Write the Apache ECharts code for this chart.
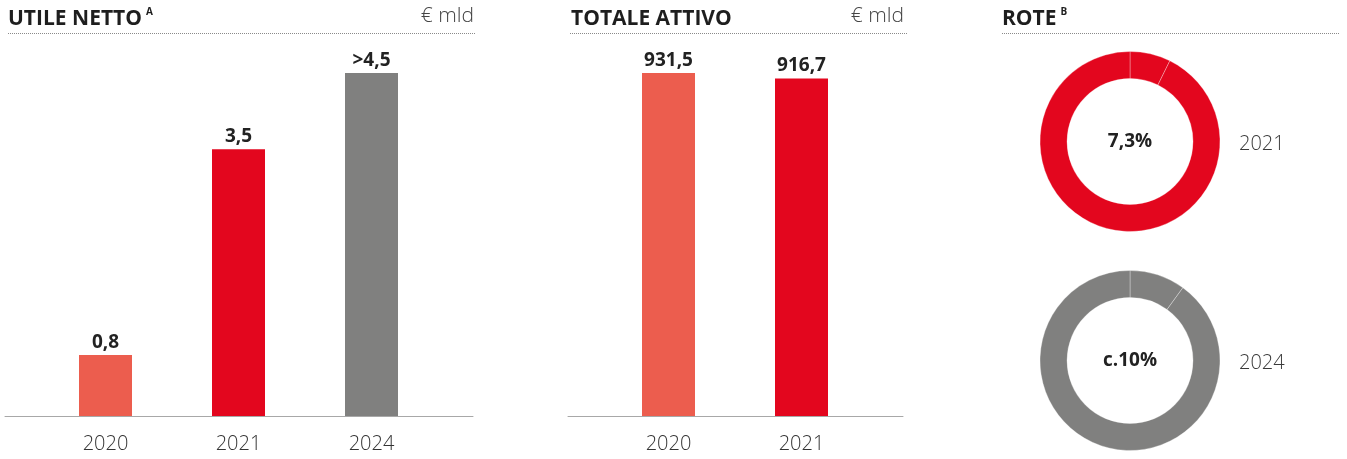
<!DOCTYPE html>
<html>
<head>
<meta charset="utf-8">
<script src="https://cdn.jsdelivr.net/npm/echarts@6/dist/echarts.min.js"></script>
<style>
html,body{margin:0;padding:0;background:#fff;}
#c{width:1347px;height:459px;}
</style>
</head>
<body>
<div id="c"></div>
<script>
// ---- data ----
const netIncomeCategories = ['2020', '2021', '2024'];
const netIncomeValues = [0.8, 3.5, 4.5];
const netIncomeLabels = ['0,8', '3,5', '>4,5'];

const totalAssetsCategories = ['2020', '2021'];
const totalAssetsValues = [931.5, 916.7];
const totalAssetsLabels = ['931,5', '916,7'];

const roteYears = ['2021', '2024'];
const roteValues = [7.3, 10];
const roteLabels = ['7,3%', 'c.10%'];

const yearColors = { '2020': '#EC5D4E', '2021': '#E3061E', '2024': '#80807F' };

const FONT = 'Open Sans';
const chart = echarts.init(document.getElementById('c'), null, { renderer: 'canvas' });

function barData(cats, vals) {
  return vals.map((v, i) => ({ value: v, itemStyle: { color: yearColors[cats[i]] } }));
}

function titleRich(main, sup) {
  return {
    padding: 0,
    text: '{a|' + main + '}' + (sup ? '{s|' + sup + '}' : ''),
    textStyle: {
      rich: {
        a: { fontFamily: FONT, fontWeight: 'bold', fontSize: 21, color: '#1e1e1e', lineHeight: 24 },
        s: { fontFamily: FONT, fontWeight: 'bold', fontSize: 10, color: '#1e1e1e', lineHeight: 24, verticalAlign: 'top', padding: [0, 0, 12, 4] }
      }
    }
  };
}
const unitStyle = { fontFamily: FONT, fontWeight: 300, fontSize: 21, color: '#444' };
const yearStyle = { fontFamily: FONT, fontWeight: 300, fontSize: 20, color: '#3a3a3a' };

const dotted = (x1, x2) => ({
  type: 'line', silent: true,
  shape: { x1: x1, y1: 33.5, x2: x2, y2: 33.5 },
  style: { stroke: '#8a8a8a', lineWidth: 1, lineDash: [1, 1] }
});

function donut(idx, cy) {
  const v = roteValues[idx];
  return {
    type: 'pie',
    silent: true,
    radius: [63, 90],
    center: [1130, cy],
    startAngle: 90,
    clockwise: true,
    label: { show: false },
    labelLine: { show: false },
    itemStyle: { color: yearColors[roteYears[idx]], borderColor: 'rgba(255,255,255,0.45)', borderWidth: 0.7 },
    data: [
      { value: v, label: { show: true, position: 'center', formatter: roteLabels[idx], fontFamily: FONT, fontWeight: 'bold', fontSize: 19, color: '#222' } },
      { value: 100 - v }
    ]
  };
}

const axisLabelStyle = { fontFamily: FONT, fontWeight: 300, fontSize: 20, color: '#333', margin: 18 };
const baseLine = { show: true, lineStyle: { color: '#a8a8a8', width: 1 } };

const option = {
  animation: false,
  backgroundColor: '#fff',
  title: [
    Object.assign({ left: 8, top: 7 }, titleRich('UTILE NETTO', 'A')),
    { text: '€ mld', right: 873, top: 6, padding: 0, textStyle: unitStyle },
    Object.assign({ left: 571, top: 7 }, titleRich('TOTALE ATTIVO')),
    { text: '€ mld', right: 443, top: 6, padding: 0, textStyle: unitStyle },
    Object.assign({ left: 1002, top: 7 }, titleRich('ROTE', 'B')),
    { text: roteYears[0], left: 1239, top: 134, padding: 0, textStyle: yearStyle },
    { text: roteYears[1], left: 1239, top: 353, padding: 0, textStyle: yearStyle }
  ],
  graphic: [dotted(8, 475), dotted(570, 907), dotted(1002, 1339)],
  grid: [
    { left: 39, right: 909, top: 73, bottom: 43 },
    { left: 5, right: 874, top: 73, bottom: 43 },
    { left: 602, right: 479, top: 73, bottom: 43 },
    { left: 568, right: 444, top: 73, bottom: 43 }
  ],
  xAxis: [
    { gridIndex: 0, type: 'category', data: netIncomeCategories, axisLine: { show: false }, axisTick: { show: false }, axisLabel: axisLabelStyle },
    { gridIndex: 1, type: 'value', min: 0, max: 1, axisLine: baseLine, axisTick: { show: false }, axisLabel: { show: false }, splitLine: { show: false } },
    { gridIndex: 2, type: 'category', data: totalAssetsCategories, axisLine: { show: false }, axisTick: { show: false }, axisLabel: axisLabelStyle },
    { gridIndex: 3, type: 'value', min: 0, max: 1, axisLine: baseLine, axisTick: { show: false }, axisLabel: { show: false }, splitLine: { show: false } }
  ],
  yAxis: [
    { gridIndex: 0, type: 'value', min: 0, max: 4.5, show: false },
    { gridIndex: 1, type: 'value', min: 0, max: 1, show: false },
    { gridIndex: 2, type: 'value', min: 0, max: 931.5, show: false },
    { gridIndex: 3, type: 'value', min: 0, max: 1, show: false }
  ],
  series: [
    {
      type: 'bar', xAxisIndex: 0, yAxisIndex: 0, barWidth: 53, silent: true,
      data: barData(netIncomeCategories, netIncomeValues),
      label: { show: true, position: 'top', distance: 3, fontFamily: FONT, fontWeight: 'bold', fontSize: 19, color: '#222',
        formatter: p => netIncomeLabels[p.dataIndex] }
    },
    {
      type: 'bar', xAxisIndex: 2, yAxisIndex: 2, barWidth: 53, silent: true,
      data: barData(totalAssetsCategories, totalAssetsValues),
      label: { show: true, position: 'top', distance: 3, fontFamily: FONT, fontWeight: 'bold', fontSize: 19, color: '#222',
        formatter: p => totalAssetsLabels[p.dataIndex] }
    },
    donut(0, 141.5),
    donut(1, 360.5)
  ]
};
chart.setOption(option);
</script>
</body>
</html>
